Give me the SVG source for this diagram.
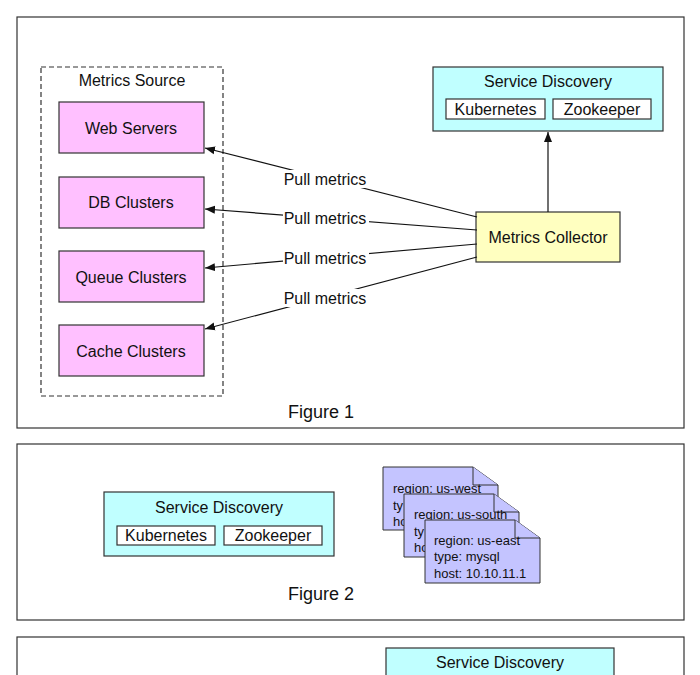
<svg xmlns="http://www.w3.org/2000/svg" width="700" height="675" viewBox="0 0 700 675">
<defs>
<style>
text{font-family:"Liberation Sans",Arial,sans-serif;fill:#111;}
.lbl{font-size:16px;text-anchor:middle;dominant-baseline:central;}
.fig{font-size:18px;text-anchor:middle;dominant-baseline:central;}
.doc{font-size:13px;dominant-baseline:central;}
.frame{fill:#fff;stroke:#333;stroke-width:1.2;}
.src{fill:#FFC0FF;stroke:#333;stroke-width:1.2;}
.sd{fill:#C0FFFF;stroke:#333;stroke-width:1.2;}
.inner{fill:#fff;stroke:#333;stroke-width:1.2;}
.mc{fill:#FFFFC0;stroke:#333;stroke-width:1.2;}
.dash{fill:none;stroke:#333;stroke-width:1.2;stroke-dasharray:5,3;}
.edge{fill:none;stroke:#111;stroke-width:1.2;marker-end:url(#arr);}
.bg{fill:#fff;}
.docs{fill:#C4C4FF;stroke:#333;stroke-width:1;}
</style>
<marker id="arr" viewBox="0 0 10 10" refX="10" refY="5" markerWidth="10" markerHeight="10" markerUnits="userSpaceOnUse" orient="auto">
<path d="M0,1 L10,5 L0,9 z" fill="#111"/>
</marker>
</defs>
<rect width="700" height="675" fill="#fff"/>

<g id="figure1">
<rect class="frame" x="17" y="17" width="667" height="411"/>
<text class="fig" x="321" y="412">Figure 1</text>
</g>
<g id="metrics-source">
<rect class="dash" x="41" y="67" width="182" height="329"/>
<text class="lbl" x="132" y="80">Metrics Source</text>
</g>
<g id="web-servers"><rect class="src" x="59" y="102" width="145" height="51"/><text class="lbl" x="131" y="128">Web Servers</text></g>
<g id="db-clusters"><rect class="src" x="59" y="177" width="145" height="51"/><text class="lbl" x="131" y="202">DB Clusters</text></g>
<g id="queue-clusters"><rect class="src" x="59" y="251" width="145" height="51"/><text class="lbl" x="131" y="277">Queue Clusters</text></g>
<g id="cache-clusters"><rect class="src" x="59" y="325" width="145" height="51"/><text class="lbl" x="131" y="351">Cache Clusters</text></g>

<g id="service-discovery-1">
<rect class="sd" x="433" y="67" width="230" height="64"/>
<text class="lbl" x="548" y="81">Service Discovery</text>
<rect class="inner" x="446" y="99" width="99" height="20"/>
<text class="lbl" x="495.5" y="109">Kubernetes</text>
<rect class="inner" x="553" y="99" width="98" height="20"/>
<text class="lbl" x="602" y="109">Zookeeper</text>
</g>
<g id="metrics-collector">
<rect class="mc" x="476" y="212" width="144" height="50"/>
<text class="lbl" x="548" y="237">Metrics Collector</text>
</g>

<g id="connectors">
<line class="edge" x1="548" y1="212" x2="548" y2="132"/>
<line class="edge" x1="477" y1="217" x2="205" y2="148"/>
<line class="edge" x1="477" y1="230" x2="205" y2="209"/>
<line class="edge" x1="477" y1="244" x2="205" y2="268"/>
<line class="edge" x1="477" y1="257" x2="205" y2="329"/>
<rect class="bg" x="283" y="170" width="86" height="18"/>
<text class="lbl" x="325" y="179">Pull metrics</text>
<rect class="bg" x="283" y="209" width="86" height="18"/>
<text class="lbl" x="325" y="218">Pull metrics</text>
<rect class="bg" x="283" y="249" width="86" height="18"/>
<text class="lbl" x="325" y="258">Pull metrics</text>
<rect class="bg" x="283" y="289" width="86" height="18"/>
<text class="lbl" x="325" y="298">Pull metrics</text>
</g>

<g id="figure2">
<rect class="frame" x="17" y="444" width="667" height="176"/>
<text class="fig" x="321" y="594">Figure 2</text>
</g>
<g id="service-discovery-2">
<rect class="sd" x="104" y="492" width="230" height="64"/>
<text class="lbl" x="219" y="507">Service Discovery</text>
<rect class="inner" x="117" y="526" width="98" height="19"/>
<text class="lbl" x="166" y="535.5">Kubernetes</text>
<rect class="inner" x="224" y="526" width="98" height="19"/>
<text class="lbl" x="273" y="535.5">Zookeeper</text>
</g>
<g id="doc-us-west">
<path class="docs" d="M383,467 H473 L498,485 V530 H383 Z"/>
<path class="docs" d="M473,467 V485 H498"/>
<text class="doc" x="393" y="488">region: us-west</text>
<text class="doc" x="393" y="505">ty</text>
<text class="doc" x="393" y="521">ho</text>
</g>
<g id="doc-us-south">
<path class="docs" d="M404,494 H494 L519,512 V557 H404 Z"/>
<path class="docs" d="M494,494 V512 H519"/>
<text class="doc" x="414" y="514">region: us-south</text>
<text class="doc" x="414" y="531">ty</text>
<text class="doc" x="414" y="547">ho</text>
</g>
<g id="doc-us-east">
<path class="docs" d="M425,520 H515 L540,538 V583 H425 Z"/>
<path class="docs" d="M515,520 V538 H540"/>
<text class="doc" x="434" y="540">region: us-east</text>
<text class="doc" x="434" y="556">type: mysql</text>
<text class="doc" x="434" y="573">host: 10.10.11.1</text>
</g>

<g id="figure3">
<rect class="frame" x="17" y="637" width="667" height="60"/>
</g>
<g id="service-discovery-3">
<rect class="sd" x="386" y="648" width="228" height="50"/>
<text class="lbl" x="500" y="662">Service Discovery</text>
</g>
</svg>
